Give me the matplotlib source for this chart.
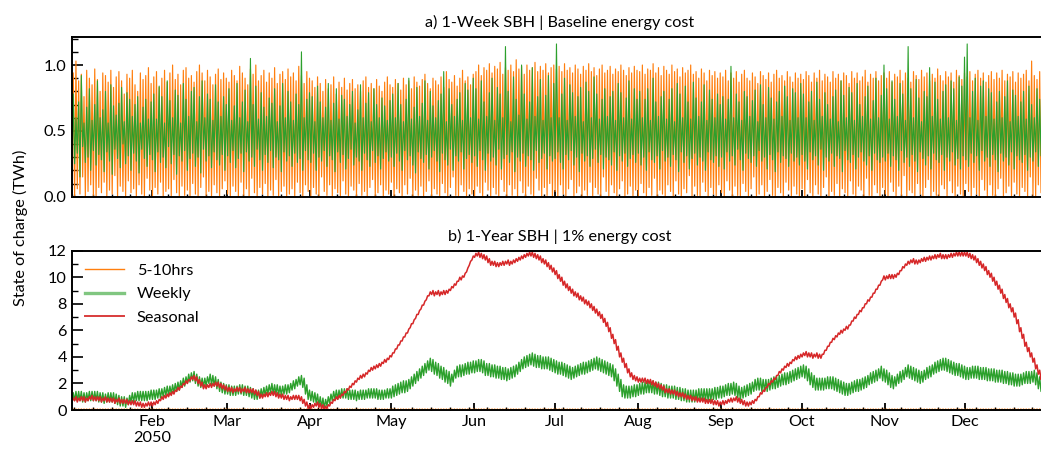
import numpy as np
import matplotlib
matplotlib.use('Agg')
import matplotlib.pyplot as plt
import matplotlib.dates as mdates
from matplotlib.ticker import MultipleLocator, FormatStrFormatter, FuncFormatter

plt.rcParams['font.family'] = ['Lato', 'DejaVu Sans']
plt.rcParams['font.size'] = 11.7

# ---- panel a: daily low / high state of charge, GWh (one row per month) ----
a_hours_hi = [
    620, 940, 1030, 880, 930, 760, 960, 900, 850, 970, 890, 800, 940, 920, 870, 960, 830, 910, 950, 880, 780, 930, 900, 960, 850, 800, 940, 890, 920, 980, 860,
    910, 950, 830, 900, 960, 870, 940, 1000, 890, 930, 850, 960, 980, 900, 920, 870, 950, 1000, 940, 880, 960, 910, 850, 930, 970, 890, 940, 900,
    870, 960, 920, 880, 990, 940, 900, 850, 970, 930, 1000, 880, 920, 960, 870, 940, 900, 980, 860, 930, 950, 890, 970, 910, 940, 880, 990, 920, 860, 950, 900,
    880, 830, 910, 860, 800, 890, 820, 850, 910, 780, 870, 830, 900, 810, 860, 890, 820, 850, 800, 880, 910, 830, 860, 820, 890, 840, 800, 870, 910, 850,
    830, 890, 860, 810, 900, 850, 880, 820, 910, 870, 840, 890, 930, 860, 820, 900, 880, 850, 910, 830, 950, 890, 870, 920, 840, 900, 960, 880, 910, 850, 930,
    950, 1000, 920, 980, 960, 1010, 940, 990, 970, 1020, 930, 980, 960, 1000, 950, 1040, 970, 990, 930, 1000, 960, 980, 1020, 950, 990, 960, 1010, 940, 980, 1000,
    970, 990, 950, 1010, 960, 980, 940, 1000, 970, 930, 990, 960, 1010, 950, 980, 920, 970, 1000, 940, 960, 990, 930, 970, 950, 1000, 960, 920, 980, 940, 990, 960,
    950, 1000, 930, 970, 960, 1010, 940, 980, 920, 990, 960, 930, 1000, 950, 970, 910, 980, 940, 960, 1000, 930, 950, 900, 970, 940, 880, 960, 920, 950, 900, 940,
    910, 960, 880, 940, 900, 950, 870, 930, 960, 900, 880, 940, 910, 860, 950, 920, 890, 940, 870, 930, 960, 900, 920, 880, 950, 910, 870, 940, 900, 930,
    890, 950, 920, 870, 940, 900, 960, 880, 930, 910, 870, 950, 900, 930, 880, 940, 920, 860, 950, 900, 940, 880, 910, 960, 870, 930, 900, 950, 880, 920, 940,
    900, 950, 870, 930, 910, 960, 880, 940, 900, 870, 950, 920, 890, 960, 910, 940, 880, 930, 900, 970, 920, 880, 950, 910, 940, 870, 960, 920, 890, 940,
    910, 950, 880, 930, 960, 900, 940, 870, 920, 950, 890, 940, 900, 960, 880, 930, 910, 950, 870, 940, 900, 930, 960, 880, 1030, 920, 890, 950, 900, 870, 930,
]
a_hours_lo = [
    300, 120, 0, 60, 20, 150, 0, 40, 90, 10, 0, 70, 30, 110, 0, 50, 20, 160, 0, 80, 40, 0, 120, 30, 60, 0, 90, 20, 0, 140, 50,
    0, 70, 20, 110, 0, 40, 60, 0, 130, 30, 0, 80, 10, 50, 0, 100, 20, 0, 70, 150, 10, 40, 0, 90, 30, 0, 60, 120,
    20, 0, 80, 40, 0, 110, 10, 60, 0, 140, 30, 0, 70, 20, 100, 0, 50, 10, 130, 0, 40, 80, 0, 20, 60, 0, 110, 30, 0, 90, 40,
    0, 70, 20, 0, 150, 40, 10, 90, 0, 60, 30, 0, 120, 20, 0, 80, 50, 0, 100, 10, 40, 0, 70, 130, 0, 30, 90, 0, 50, 20,
    110, 0, 60, 30, 0, 90, 20, 140, 0, 50, 10, 80, 0, 40, 120, 0, 60, 20, 0, 100, 30, 0, 70, 150, 10, 0, 90, 40, 0, 60, 20,
    0, 80, 30, 0, 110, 50, 0, 70, 20, 0, 130, 40, 0, 90, 10, 60, 0, 120, 30, 0, 80, 20, 0, 140, 50, 0, 70, 10, 100, 0,
    40, 0, 90, 20, 0, 60, 130, 0, 30, 80, 0, 50, 10, 110, 0, 70, 20, 0, 150, 40, 0, 90, 30, 0, 60, 120, 0, 20, 80, 0, 50,
    0, 100, 30, 0, 70, 10, 140, 0, 50, 20, 0, 90, 40, 0, 120, 20, 0, 60, 30, 160, 0, 80, 10, 0, 110, 40, 0, 70, 20, 0, 90,
    30, 0, 120, 50, 0, 80, 10, 0, 100, 40, 0, 60, 150, 0, 20, 90, 0, 40, 130, 10, 0, 70, 30, 0, 110, 50, 0, 80, 20, 0,
    60, 0, 130, 30, 0, 90, 20, 0, 70, 150, 0, 40, 10, 100, 0, 60, 30, 0, 120, 20, 0, 80, 50, 0, 140, 10, 0, 90, 30, 0, 70,
    20, 0, 110, 40, 0, 80, 10, 160, 0, 50, 30, 0, 100, 20, 0, 70, 130, 0, 40, 10, 0, 90, 60, 0, 120, 30, 0, 80, 20, 0,
    100, 40, 0, 70, 20, 0, 130, 50, 0, 90, 10, 0, 60, 140, 0, 30, 80, 0, 110, 20, 0, 70, 40, 0, 150, 10, 0, 90, 30, 0, 60,
]
a_weekly_hi = [
    500, 780, 600, 720, 920, 560, 680, 820, 580, 700, 880, 600, 660, 800, 560, 850, 690, 620, 710, 830, 570, 790, 740, 610, 700, 760, 560, 680, 740, 590, 720,
    780, 590, 840, 760, 560, 880, 730, 600, 810, 770, 560, 860, 740, 610, 800, 830, 570, 760, 880, 600, 780, 740, 580, 850, 720, 610, 760, 700,
    820, 580, 690, 860, 600, 720, 810, 570, 1050, 700, 840, 590, 790, 680, 610, 750, 710, 820, 570, 690, 860, 600, 800, 720, 580, 780, 700, 1100, 600, 740, 790,
    760, 570, 840, 720, 600, 680, 860, 580, 710, 820, 590, 770, 740, 610, 700, 800, 560, 660, 850, 600, 710, 790, 570, 820, 700, 600, 750, 690, 580, 730,
    780, 600, 860, 700, 570, 740, 900, 590, 680, 830, 610, 710, 880, 580, 800, 690, 600, 730, 780, 950, 570, 820, 700, 610, 740, 790, 580, 860, 810, 600, 900,
    820, 590, 880, 720, 610, 790, 900, 580, 830, 780, 600, 1140, 800, 570, 910, 740, 620, 1000, 780, 590, 720, 980, 610, 760, 890, 580, 770, 920, 600, 860,
    1160, 600, 780, 900, 580, 850, 790, 610, 760, 830, 570, 870, 800, 600, 910, 780, 590, 740, 820, 610, 760, 800, 580, 860, 790, 600, 750, 880, 590, 820, 740,
    800, 600, 740, 820, 580, 900, 720, 610, 760, 800, 590, 740, 820, 570, 860, 780, 600, 840, 720, 590, 870, 750, 610, 720, 850, 580, 810, 740, 600, 780, 700,
    760, 590, 740, 990, 600, 780, 720, 580, 800, 760, 610, 730, 810, 570, 850, 700, 600, 830, 750, 590, 720, 800, 610, 840, 760, 580, 820, 790, 600, 860,
    780, 600, 720, 800, 580, 870, 740, 610, 790, 700, 590, 760, 810, 570, 880, 770, 600, 830, 790, 580, 860, 700, 610, 760, 840, 590, 730, 900, 600, 770, 1000,
    820, 590, 880, 740, 610, 860, 780, 580, 1140, 820, 600, 890, 750, 570, 800, 760, 980, 610, 870, 740, 590, 800, 850, 600, 880, 820, 580, 910, 840, 1060,
    1160, 600, 800, 900, 580, 840, 880, 610, 820, 790, 590, 720, 800, 600, 760, 880, 570, 810, 770, 610, 720, 800, 590, 840, 700, 600, 820, 740, 580, 700, 760,
]
a_weekly_lo = [
    400, 180, 250, 330, 150, 380, 260, 300, 200, 350, 240, 320, 280, 190, 340, 270, 170, 360, 290, 220, 400, 250, 310, 200, 330, 270, 180, 360, 290, 230, 320,
    280, 190, 340, 260, 300, 220, 380, 250, 320, 170, 310, 270, 350, 200, 290, 330, 230, 300, 180, 360, 270, 310, 220, 340, 280, 240, 320, 200,
    310, 260, 350, 220, 290, 330, 190, 340, 270, 300, 230, 360, 280, 200, 320, 260, 350, 220, 300, 280, 190, 340, 270, 310, 230, 330, 260, 290, 200, 350, 280,
    260, 330, 200, 300, 270, 350, 230, 310, 280, 190, 340, 260, 320, 210, 290, 360, 240, 300, 270, 200, 330, 280, 230, 350, 260, 310, 210, 290, 340, 270,
    300, 230, 330, 270, 200, 350, 280, 310, 240, 180, 340, 290, 260, 320, 210, 300, 350, 270, 190, 330, 280, 240, 360, 200, 310, 270, 340, 210, 290, 320, 260,
    310, 230, 350, 280, 200, 330, 270, 300, 240, 360, 210, 290, 320, 260, 340, 190, 300, 270, 330, 230, 310, 280, 200, 350, 260, 290, 330, 210, 310, 270,
    290, 340, 260, 210, 320, 280, 350, 240, 300, 190, 330, 270, 310, 230, 290, 360, 260, 320, 210, 300, 280, 240, 340, 200, 310, 270, 330, 230, 290, 320, 260,
    330, 240, 300, 200, 340, 280, 260, 310, 210, 350, 270, 300, 230, 320, 280, 190, 340, 260, 310, 210, 290, 330, 240, 300, 270, 200, 340, 280, 260, 310, 230,
    300, 210, 340, 270, 310, 240, 360, 280, 200, 330, 290, 260, 310, 230, 350, 270, 300, 210, 320, 280, 190, 340, 260, 310, 290, 230, 330, 270, 300, 240,
    320, 270, 210, 340, 280, 310, 240, 360, 200, 300, 270, 330, 230, 310, 290, 190, 350, 280, 260, 320, 210, 300, 340, 270, 240, 310, 200, 330, 280, 260, 300,
    270, 330, 230, 310, 280, 200, 350, 260, 300, 230, 320, 270, 190, 340, 290, 240, 310, 210, 330, 280, 260, 320, 200, 300, 270, 340, 240, 290, 210, 310,
    280, 230, 330, 260, 310, 200, 350, 270, 300, 230, 320, 280, 190, 330, 270, 300, 240, 340, 210, 310, 280, 260, 320, 200, 300, 270, 340, 230, 310, 280, 260,
]

# ---- panel b: daily low / high state of charge, TWh (one row per month) ----
b_seasonal_lo = [
    0.6, 0.6, 0.7, 0.6, 0.7, 0.7, 0.6, 0.7, 0.8, 0.7, 0.7, 0.7, 0.6, 0.7, 0.6, 0.6, 0.6, 0.5, 0.6, 0.5, 0.5, 0.5, 0.4, 0.4, 0.4, 0.3, 0.3, 0.2, 0.2, 0.3, 0.3,
    0.3, 0.4, 0.5, 0.7, 0.8, 0.9, 1.0, 1.1, 1.2, 1.4, 1.5, 1.7, 1.9, 2.0, 2.2, 2.3, 2.2, 2.0, 1.8, 1.6, 1.6, 1.7, 1.7, 1.8, 1.8, 1.7, 1.6, 1.5,
    1.4, 1.4, 1.3, 1.4, 1.4, 1.3, 1.4, 1.3, 1.3, 1.3, 1.2, 1.1, 0.9, 0.9, 1.0, 1.0, 1.1, 1.1, 1.0, 0.9, 0.9, 0.8, 0.8, 0.7, 0.8, 0.8, 0.8, 0.7, 0.5, 0.3, 0.1,
    0.1, 0.2, 0.3, 0.2, 0.1, 0.0, 0.1, 0.3, 0.5, 0.7, 0.8, 0.9, 1.1, 1.3, 1.5, 1.7, 1.9, 2.1, 2.3, 2.4, 2.5, 2.7, 2.9, 3.0, 3.1, 3.2, 3.3, 3.5, 3.6, 3.8,
    4.0, 4.3, 4.6, 4.9, 5.2, 5.5, 5.8, 6.2, 6.5, 6.9, 7.2, 7.6, 7.9, 8.3, 8.6, 8.7, 8.6, 8.7, 8.6, 8.7, 8.7, 8.8, 9.0, 9.2, 9.4, 9.7, 9.8, 10.0, 10.4, 10.9, 11.3,
    11.5, 11.6, 11.5, 11.4, 11.3, 11.1, 10.9, 10.9, 10.8, 10.8, 10.9, 10.9, 11.0, 10.9, 11.0, 11.1, 11.2, 11.3, 11.4, 11.5, 11.6, 11.6, 11.5, 11.4, 11.3, 11.1, 11.0, 10.8, 10.6, 10.4,
    10.2, 9.9, 9.7, 9.4, 9.2, 9.0, 8.8, 8.6, 8.5, 8.3, 8.2, 8.0, 7.9, 7.7, 7.5, 7.3, 7.1, 6.9, 6.6, 6.3, 5.9, 5.4, 5.0, 4.5, 4.0, 3.6, 3.2, 2.8, 2.5, 2.3, 2.2,
    2.1, 2.1, 2.1, 2.0, 2.0, 1.9, 1.8, 1.7, 1.6, 1.5, 1.3, 1.3, 1.2, 1.2, 1.1, 1.0, 1.0, 0.9, 0.8, 0.8, 0.7, 0.7, 0.6, 0.6, 0.6, 0.5, 0.5, 0.5, 0.4, 0.4, 0.3,
    0.4, 0.4, 0.5, 0.6, 0.6, 0.7, 0.6, 0.5, 0.4, 0.3, 0.3, 0.4, 0.5, 0.7, 1.0, 1.2, 1.4, 1.7, 1.9, 2.1, 2.3, 2.6, 2.8, 3.0, 3.2, 3.3, 3.5, 3.7, 3.8, 3.9,
    4.0, 4.1, 4.0, 4.0, 3.9, 4.0, 3.9, 3.9, 4.2, 4.5, 4.8, 5.1, 5.3, 5.5, 5.7, 5.8, 6.0, 6.1, 6.4, 6.7, 6.9, 7.2, 7.4, 7.7, 8.0, 8.2, 8.5, 8.8, 9.1, 9.4, 9.8,
    9.8, 9.9, 9.9, 9.9, 10.0, 10.2, 10.5, 10.7, 10.9, 11.0, 11.1, 11.0, 11.0, 11.1, 11.2, 11.2, 11.3, 11.3, 11.4, 11.4, 11.5, 11.4, 11.4, 11.4, 11.5, 11.5, 11.6, 11.6, 11.6, 11.6,
    11.6, 11.5, 11.4, 11.3, 11.1, 10.9, 10.7, 10.5, 10.2, 10.0, 9.7, 9.4, 9.1, 8.8, 8.4, 8.1, 7.7, 7.4, 7.0, 6.5, 5.9, 5.4, 4.8, 4.4, 4.0, 3.6, 3.1, 2.7, 2.3, 2.0, 1.8,
]
b_seasonal_hi = [
    0.9, 0.9, 1.0, 0.9, 1.0, 1.0, 0.9, 1.0, 1.1, 1.0, 1.0, 1.0, 0.9, 1.0, 0.9, 0.9, 0.9, 0.8, 0.9, 0.8, 0.8, 0.8, 0.7, 0.7, 0.7, 0.6, 0.6, 0.5, 0.5, 0.6, 0.6,
    0.6, 0.7, 0.8, 1.0, 1.1, 1.2, 1.3, 1.4, 1.5, 1.7, 1.8, 2.0, 2.2, 2.3, 2.5, 2.6, 2.5, 2.3, 2.1, 1.9, 1.9, 2.0, 2.0, 2.1, 2.1, 2.0, 1.9, 1.8,
    1.7, 1.7, 1.6, 1.7, 1.7, 1.6, 1.7, 1.6, 1.6, 1.6, 1.5, 1.4, 1.2, 1.2, 1.3, 1.3, 1.4, 1.4, 1.3, 1.2, 1.2, 1.1, 1.1, 1.0, 1.1, 1.1, 1.1, 1.0, 0.8, 0.6, 0.4,
    0.4, 0.5, 0.6, 0.5, 0.4, 0.3, 0.4, 0.6, 0.8, 1.0, 1.1, 1.2, 1.4, 1.6, 1.8, 2.0, 2.2, 2.4, 2.6, 2.7, 2.8, 3.0, 3.2, 3.3, 3.4, 3.5, 3.6, 3.8, 3.9, 4.1,
    4.3, 4.6, 4.9, 5.2, 5.5, 5.8, 6.1, 6.5, 6.8, 7.2, 7.5, 7.9, 8.2, 8.6, 8.9, 9.0, 8.9, 9.0, 8.9, 9.0, 9.0, 9.1, 9.3, 9.5, 9.7, 10.0, 10.1, 10.3, 10.7, 11.2, 11.6,
    11.8, 11.9, 11.8, 11.7, 11.6, 11.4, 11.2, 11.2, 11.1, 11.1, 11.2, 11.2, 11.3, 11.2, 11.3, 11.4, 11.5, 11.6, 11.7, 11.8, 11.9, 11.9, 11.8, 11.7, 11.6, 11.4, 11.3, 11.1, 10.9, 10.7,
    10.5, 10.2, 10.0, 9.7, 9.5, 9.3, 9.1, 8.9, 8.8, 8.6, 8.5, 8.3, 8.2, 8.0, 7.8, 7.6, 7.4, 7.2, 6.9, 6.6, 6.2, 5.7, 5.3, 4.8, 4.3, 3.9, 3.5, 3.1, 2.8, 2.6, 2.5,
    2.4, 2.4, 2.4, 2.3, 2.3, 2.2, 2.1, 2.0, 1.9, 1.8, 1.6, 1.6, 1.5, 1.5, 1.4, 1.3, 1.3, 1.2, 1.1, 1.1, 1.0, 1.0, 0.9, 0.9, 0.9, 0.8, 0.8, 0.8, 0.7, 0.7, 0.6,
    0.7, 0.7, 0.8, 0.9, 0.9, 1.0, 0.9, 0.8, 0.7, 0.6, 0.6, 0.7, 0.8, 1.0, 1.3, 1.5, 1.7, 2.0, 2.2, 2.4, 2.6, 2.9, 3.1, 3.3, 3.5, 3.6, 3.8, 4.0, 4.1, 4.2,
    4.3, 4.4, 4.3, 4.3, 4.2, 4.3, 4.2, 4.2, 4.5, 4.8, 5.1, 5.4, 5.6, 5.8, 6.0, 6.1, 6.3, 6.4, 6.7, 7.0, 7.2, 7.5, 7.7, 8.0, 8.3, 8.5, 8.8, 9.1, 9.4, 9.7, 10.1,
    10.1, 10.2, 10.2, 10.2, 10.3, 10.5, 10.8, 11.0, 11.2, 11.3, 11.4, 11.3, 11.3, 11.4, 11.5, 11.5, 11.6, 11.6, 11.7, 11.7, 11.8, 11.7, 11.7, 11.7, 11.8, 11.8, 11.9, 11.9, 11.9, 11.9,
    11.9, 11.8, 11.7, 11.6, 11.4, 11.2, 11.0, 10.8, 10.5, 10.3, 10.0, 9.7, 9.4, 9.1, 8.7, 8.4, 8.0, 7.7, 7.3, 6.8, 6.2, 5.7, 5.1, 4.7, 4.3, 3.9, 3.4, 3.0, 2.6, 2.3, 2.1,
]
b_weekly_lo = [
    0.6, 0.6, 0.7, 0.7, 0.7, 0.6, 0.6, 0.7, 0.7, 0.7, 0.7, 0.6, 0.6, 0.5, 0.6, 0.6, 0.6, 0.5, 0.4, 0.3, 0.3, 0.2, 0.4, 0.6, 0.6, 0.7, 0.7, 0.7, 0.7, 0.7, 0.8,
    0.8, 0.8, 0.9, 0.9, 1.0, 1.1, 1.1, 1.2, 1.3, 1.4, 1.5, 1.7, 1.8, 2.0, 2.1, 2.2, 2.0, 1.8, 1.7, 1.7, 1.8, 2.0, 1.9, 1.8, 1.6, 1.4, 1.3, 1.2,
    1.2, 1.1, 1.1, 1.1, 1.2, 1.2, 1.1, 1.1, 1.0, 0.9, 0.8, 0.8, 0.9, 1.0, 1.1, 1.2, 1.3, 1.2, 1.2, 1.1, 1.1, 1.2, 1.2, 1.3, 1.5, 1.6, 1.8, 1.9, 1.7, 1.2, 0.8,
    0.7, 0.6, 0.5, 0.3, 0.2, 0.1, 0.3, 0.5, 0.7, 0.8, 0.8, 0.9, 0.9, 0.9, 0.8, 0.8, 0.8, 0.7, 0.8, 0.8, 0.8, 0.9, 0.9, 0.9, 0.9, 0.8, 0.8, 0.8, 0.9, 0.9,
    0.9, 1.0, 1.1, 1.2, 1.3, 1.3, 1.4, 1.6, 1.8, 2.0, 2.2, 2.4, 2.6, 2.8, 3.0, 2.9, 2.7, 2.6, 2.4, 2.3, 2.1, 2.0, 1.8, 2.1, 2.4, 2.5, 2.5, 2.6, 2.7, 2.7, 2.8,
    2.8, 2.9, 2.9, 2.8, 2.6, 2.6, 2.5, 2.5, 2.4, 2.4, 2.3, 2.3, 2.2, 2.3, 2.4, 2.5, 2.7, 2.9, 3.1, 3.2, 3.3, 3.4, 3.3, 3.2, 3.2, 3.1, 3.1, 3.1, 3.0, 2.9,
    2.8, 2.7, 2.7, 2.6, 2.5, 2.4, 2.3, 2.4, 2.5, 2.6, 2.7, 2.7, 2.8, 2.9, 3.0, 3.1, 3.0, 2.9, 2.8, 2.7, 2.6, 2.5, 2.2, 1.8, 1.4, 1.0, 0.9, 0.9, 0.9, 1.0, 1.0,
    1.1, 1.2, 1.2, 1.3, 1.3, 1.3, 1.2, 1.2, 1.1, 1.0, 1.0, 0.9, 0.9, 0.9, 0.8, 0.8, 0.7, 0.7, 0.6, 0.6, 0.6, 0.6, 0.7, 0.7, 0.7, 0.7, 0.7, 0.7, 0.8, 0.8, 0.9,
    0.9, 1.0, 1.1, 1.1, 1.2, 1.1, 0.9, 0.8, 0.9, 1.0, 1.1, 1.2, 1.4, 1.5, 1.5, 1.4, 1.4, 1.4, 1.5, 1.6, 1.6, 1.7, 1.8, 1.9, 1.9, 2.0, 2.1, 2.2, 2.3, 2.4,
    2.5, 2.4, 2.2, 1.9, 1.7, 1.5, 1.5, 1.5, 1.5, 1.6, 1.6, 1.6, 1.5, 1.4, 1.3, 1.2, 1.1, 1.1, 1.2, 1.3, 1.4, 1.4, 1.5, 1.6, 1.7, 1.9, 2.0, 2.1, 2.2, 2.4, 2.2,
    2.1, 1.9, 1.7, 1.6, 1.8, 2.0, 2.1, 2.3, 2.5, 2.4, 2.3, 2.2, 2.1, 2.0, 2.1, 2.3, 2.4, 2.5, 2.7, 2.8, 2.9, 3.0, 3.0, 2.9, 2.8, 2.7, 2.6, 2.6, 2.5, 2.4,
    2.3, 2.3, 2.4, 2.4, 2.4, 2.3, 2.3, 2.3, 2.2, 2.2, 2.2, 2.1, 2.1, 2.1, 2.0, 2.0, 1.9, 1.9, 1.8, 1.8, 1.8, 1.9, 2.0, 2.0, 2.0, 2.1, 1.9, 1.6, 1.4, 1.2, 1.1,
]
b_weekly_hi = [
    1.3, 1.3, 1.4, 1.4, 1.4, 1.3, 1.3, 1.4, 1.4, 1.4, 1.4, 1.3, 1.3, 1.2, 1.3, 1.3, 1.3, 1.2, 1.1, 1.0, 1.0, 0.9, 1.1, 1.3, 1.3, 1.4, 1.4, 1.4, 1.4, 1.4, 1.5,
    1.5, 1.5, 1.6, 1.6, 1.7, 1.8, 1.8, 1.9, 2.0, 2.1, 2.2, 2.4, 2.5, 2.7, 2.8, 2.9, 2.7, 2.5, 2.4, 2.4, 2.5, 2.7, 2.6, 2.5, 2.3, 2.1, 2.0, 1.9,
    1.9, 1.8, 1.8, 1.8, 1.9, 1.9, 1.8, 1.8, 1.7, 1.6, 1.5, 1.5, 1.6, 1.7, 1.8, 1.9, 2.0, 1.9, 1.9, 1.8, 1.8, 1.9, 1.9, 2.0, 2.2, 2.3, 2.5, 2.6, 2.4, 1.9, 1.5,
    1.4, 1.3, 1.2, 1.0, 0.9, 0.8, 1.0, 1.2, 1.4, 1.5, 1.5, 1.6, 1.6, 1.6, 1.5, 1.5, 1.5, 1.4, 1.5, 1.5, 1.5, 1.6, 1.6, 1.6, 1.6, 1.5, 1.5, 1.5, 1.6, 1.6,
    1.8, 1.9, 2.0, 2.1, 2.2, 2.2, 2.3, 2.5, 2.7, 2.9, 3.1, 3.3, 3.5, 3.7, 3.9, 3.8, 3.6, 3.5, 3.3, 3.2, 3.0, 2.9, 2.7, 3.0, 3.3, 3.4, 3.4, 3.5, 3.6, 3.6, 3.7,
    3.7, 3.8, 3.8, 3.7, 3.5, 3.5, 3.4, 3.4, 3.3, 3.3, 3.2, 3.2, 3.1, 3.2, 3.3, 3.4, 3.6, 3.8, 4.0, 4.1, 4.2, 4.3, 4.2, 4.1, 4.1, 4.0, 4.0, 4.0, 3.9, 3.8,
    3.7, 3.6, 3.6, 3.5, 3.4, 3.3, 3.2, 3.3, 3.4, 3.5, 3.6, 3.6, 3.7, 3.8, 3.9, 4.0, 3.9, 3.8, 3.7, 3.6, 3.5, 3.4, 3.1, 2.7, 2.3, 1.9, 1.8, 1.8, 1.8, 1.9, 1.9,
    2.0, 2.1, 2.1, 2.2, 2.2, 2.2, 2.1, 2.1, 2.0, 1.9, 1.9, 1.8, 1.8, 1.8, 1.7, 1.7, 1.6, 1.6, 1.5, 1.5, 1.5, 1.5, 1.6, 1.6, 1.6, 1.6, 1.6, 1.6, 1.7, 1.7, 1.8,
    1.8, 1.9, 2.0, 2.0, 2.1, 2.0, 1.8, 1.7, 1.8, 1.9, 2.0, 2.1, 2.3, 2.4, 2.4, 2.3, 2.3, 2.3, 2.4, 2.5, 2.5, 2.6, 2.7, 2.8, 2.8, 2.9, 3.0, 3.1, 3.2, 3.3,
    3.4, 3.3, 3.1, 2.8, 2.6, 2.4, 2.4, 2.4, 2.4, 2.5, 2.5, 2.5, 2.4, 2.3, 2.2, 2.1, 2.0, 2.0, 2.1, 2.2, 2.3, 2.3, 2.4, 2.5, 2.6, 2.8, 2.9, 3.0, 3.1, 3.3, 3.1,
    3.0, 2.8, 2.6, 2.5, 2.7, 2.9, 3.0, 3.2, 3.4, 3.3, 3.2, 3.1, 3.0, 2.9, 3.0, 3.2, 3.3, 3.4, 3.6, 3.7, 3.8, 3.9, 3.9, 3.8, 3.7, 3.6, 3.5, 3.5, 3.4, 3.3,
    3.2, 3.2, 3.3, 3.3, 3.3, 3.2, 3.2, 3.2, 3.1, 3.1, 3.1, 3.0, 3.0, 3.0, 2.9, 2.9, 2.8, 2.8, 2.7, 2.7, 2.7, 2.8, 2.9, 2.9, 2.9, 3.0, 2.8, 2.5, 2.3, 2.1, 2.0,
]
# 5-10hrs storage stays flat near zero all year in panel b
b_hours_lo = [0.0] * 365
b_hours_hi = [0.08] * 365

days = np.arange('2050-01-01', '2051-01-01', dtype='datetime64[D]')

ORANGE = '#ff7f0e'
GREEN = '#2ca02c'
RED = '#d62728'


def zigzag(lo, hi, scale=1.0):
    # daily trough in the early morning, daily peak in the afternoon
    n = min(len(lo), len(hi), len(days))
    d = days[:n].astype('datetime64[h]')
    t = np.empty(2 * n, dtype='datetime64[h]')
    t[0::2] = d + np.timedelta64(5, 'h')
    t[1::2] = d + np.timedelta64(17, 'h')
    v = np.empty(2 * n)
    v[0::2] = np.asarray(lo[:n], dtype=float) * scale
    v[1::2] = np.asarray(hi[:n], dtype=float) * scale
    return t, v


def month_label(x, pos):
    d = mdates.num2date(x)
    return d.strftime('%b') + ('\n2050' if d.month == 2 else '')


W, H = 1041, 451
fig = plt.figure(figsize=(W / 100, H / 100), dpi=100)
left = 71.7 / W
width = (1048.4 - 71.7) / W
ax1 = fig.add_axes([left, 1 - 196.7 / H, width, 160 / H])
ax2 = fig.add_axes([left, 1 - 410 / H, width, 159.3 / H])

ax1.plot(*zigzag(a_hours_lo, a_hours_hi, 0.001), color=ORANGE, lw=0.85)
ax1.plot(*zigzag(a_weekly_lo, a_weekly_hi, 0.001), color=GREEN, lw=0.8)

ax2.plot(*zigzag(b_hours_lo, b_hours_hi), color=ORANGE, lw=0.8, label='5-10hrs')
ax2.plot(*zigzag(b_weekly_lo, b_weekly_hi), color=GREEN, lw=1.0, label='Weekly')
ax2.plot(*zigzag(b_seasonal_lo, b_seasonal_hi), color=RED, lw=1.1, label='Seasonal')

xmin = np.datetime64('2050-01-02T03:00')
xmax = np.datetime64('2050-12-31T23:00')

for ax in (ax1, ax2):
    ax.set_xlim(xmin, xmax)
    ax.xaxis.set_major_locator(mdates.MonthLocator())
    ax.xaxis.set_minor_locator(mdates.WeekdayLocator(byweekday=mdates.MO))
    ax.xaxis.set_major_formatter(FuncFormatter(month_label))
    ax.tick_params(axis='x', which='major', direction='in', length=5, width=1.3)
    ax.tick_params(axis='x', which='minor', direction='in', length=2.5, width=1.0)
    ax.tick_params(axis='y', which='major', direction='in', length=8, width=1.2)
    ax.tick_params(axis='y', which='minor', direction='in', length=4, width=1.0)
    for s in ax.spines.values():
        s.set_linewidth(1.4)

ax1.tick_params(axis='x', labelbottom=False)
ax1.set_ylim(0, 1.215)
ax1.yaxis.set_major_locator(MultipleLocator(0.5))
ax1.yaxis.set_minor_locator(MultipleLocator(0.1))
ax1.yaxis.set_major_formatter(FormatStrFormatter('%.1f'))
ax1.set_title('a) 1-Week SBH | Baseline energy cost', fontsize=11.7, pad=7)

ax2.set_ylim(0, 12)
ax2.yaxis.set_major_locator(MultipleLocator(2))
ax2.yaxis.set_minor_locator(MultipleLocator(1))
ax2.set_title('b) 1-Year SBH | 1% energy cost', fontsize=11.7, pad=7)
leg = ax2.legend(loc='upper left', frameon=False, handlelength=2.4, handletextpad=0.8,
                 labelspacing=0.55, borderaxespad=0.4, fontsize=11.7)
# legend keys as drawn in the reference: thin orange, broad pale green, red
for h, lw, a in zip(leg.legend_handles, (1.0, 2.4, 1.4), (1.0, 0.6, 0.9)):
    h.set_linewidth(lw)
    h.set_alpha(a)

fig.text(20 / W, 1 - 228 / H, 'State of charge (TWh)', rotation=90,
         ha='center', va='center', fontsize=11.7)

fig.savefig('out.png', dpi=100)
